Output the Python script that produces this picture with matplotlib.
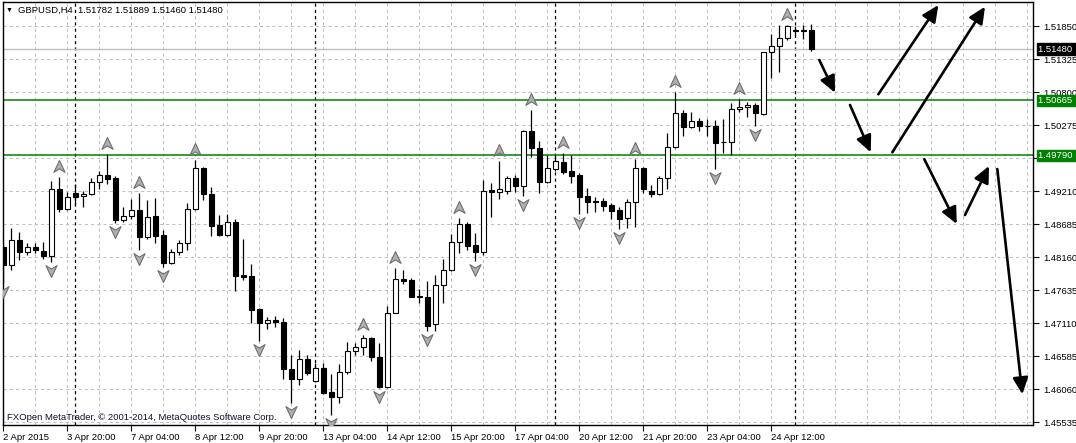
import numpy as np
import matplotlib
matplotlib.use("Agg")
import matplotlib.pyplot as plt
from matplotlib.path import Path
from matplotlib import transforms

plt.rcParams["font.family"] = ["Liberation Sans", "DejaVu Sans"]

# GBPUSD H4 candles, 2 Apr 2015 12:00 .. 27 Apr 2015 08:00
opens = [1.48339, 1.48048, 1.48446, 1.48259, 1.48334, 1.48271, 1.48196, 1.49257, 1.48939, 1.49189,
         1.49141, 1.49173, 1.49364, 1.49480, 1.49427, 1.48759, 1.48832, 1.48923, 1.48489, 1.48827,
         1.48520, 1.48075, 1.48250, 1.48393, 1.48934, 1.49586, 1.49177, 1.48679, 1.48530, 1.48727,
         1.47889, 1.47873, 1.47343, 1.47120, 1.47173, 1.47141, 1.46388, 1.46229, 1.46552, 1.46207,
         1.46404, 1.46022, 1.45943, 1.46341, 1.46680, 1.46748, 1.46882, 1.46579, 1.46112, 1.47289,
         1.47820, 1.47809, 1.47550, 1.47534, 1.47104, 1.47725, 1.47964, 1.48406, 1.48697, 1.48361,
         1.48250, 1.49236, 1.49205, 1.49230, 1.49427, 1.49310, 1.50180, 1.49905, 1.49373, 1.49570,
         1.49682, 1.49543, 1.49480, 1.49146, 1.49066, 1.49066, 1.49002, 1.48923, 1.48791, 1.49045,
         1.49586, 1.49230, 1.49173, 1.49427, 1.49921, 1.50461, 1.50248, 1.50344, 1.50264, 1.50255,
         1.50010, 1.50010, 1.50525, 1.50557, 1.50589, 1.50450, 1.51432, 1.51532, 1.51655, 1.51776,
         1.51776, 1.51782]
highs = [1.48414, 1.48641, 1.48578, 1.48403, 1.48393, 1.48414, 1.49389, 1.49443, 1.49214, 1.49337,
         1.49225, 1.49427, 1.49548, 1.49814, 1.49464, 1.48966, 1.49098, 1.49198, 1.49082, 1.49109,
         1.48605, 1.48298, 1.48446, 1.49029, 1.49718, 1.49612, 1.49294, 1.48843, 1.48859, 1.48780,
         1.48462, 1.48064, 1.47359, 1.47216, 1.47241, 1.47200, 1.46616, 1.46695, 1.46616, 1.46494,
         1.46484, 1.46314, 1.46473, 1.46828, 1.46802, 1.46934, 1.46907, 1.46812, 1.47396, 1.48005,
         1.47968, 1.47836, 1.47661, 1.47793, 1.47889, 1.48139, 1.48538, 1.48791, 1.48735, 1.48552,
         1.49400, 1.49348, 1.49702, 1.49469, 1.49480, 1.50196, 1.50514, 1.50021, 1.49798, 1.49798,
         1.49835, 1.49798, 1.49512, 1.49268, 1.49135, 1.49109, 1.49034, 1.48971, 1.49093, 1.49734,
         1.49607, 1.49321, 1.49464, 1.50143, 1.50805, 1.50514, 1.50477, 1.50382, 1.50371, 1.50355,
         1.50366, 1.50621, 1.50689, 1.50636, 1.50621, 1.51437, 1.51718, 1.51866, 1.51866, 1.51850,
         1.51866, 1.51889]
lows = [1.47761, 1.47968, 1.48127, 1.48207, 1.48234, 1.48139, 1.48100, 1.48886, 1.48923, 1.49002,
        1.48975, 1.49162, 1.49257, 1.49332, 1.48711, 1.48737, 1.48780, 1.48286, 1.48462, 1.48393,
        1.48021, 1.48059, 1.48207, 1.48286, 1.48923, 1.49082, 1.48514, 1.48509, 1.48514, 1.47639,
        1.47809, 1.47120, 1.46843, 1.47034, 1.47057, 1.46239, 1.45857, 1.46139, 1.46298, 1.46182,
        1.45995, 1.45669, 1.45847, 1.46309, 1.46616, 1.46616, 1.46525, 1.46086, 1.46096, 1.47289,
        1.47746, 1.47534, 1.47448, 1.46998, 1.47003, 1.47448, 1.47952, 1.48234, 1.48286, 1.48116,
        1.48207, 1.48816, 1.49098, 1.49177, 1.49214, 1.49150, 1.49771, 1.49198, 1.49352, 1.49543,
        1.49491, 1.49348, 1.48859, 1.48880, 1.48896, 1.48912, 1.48780, 1.48616, 1.48641, 1.48657,
        1.49198, 1.49125, 1.49162, 1.49252, 1.49910, 1.50105, 1.50223, 1.50180, 1.50105, 1.49575,
        1.49825, 1.49798, 1.50487, 1.50407, 1.50264, 1.50440, 1.51028, 1.51114, 1.51628, 1.51707,
        1.51639, 1.51460]
closes = [1.48048, 1.48446, 1.48259, 1.48339, 1.48282, 1.48196, 1.49257, 1.48939, 1.49125, 1.49135,
          1.49177, 1.49364, 1.49480, 1.49416, 1.48769, 1.48832, 1.48923, 1.48498, 1.48816, 1.48514,
          1.48075, 1.48250, 1.48393, 1.48934, 1.49586, 1.49173, 1.48673, 1.48525, 1.48727, 1.47878,
          1.47862, 1.47332, 1.47120, 1.47173, 1.47136, 1.46388, 1.46229, 1.46552, 1.46325, 1.46404,
          1.46016, 1.45943, 1.46341, 1.46680, 1.46748, 1.46882, 1.46579, 1.46112, 1.47289, 1.47820,
          1.47793, 1.47544, 1.47534, 1.47082, 1.47722, 1.47964, 1.48406, 1.48697, 1.48355, 1.48250,
          1.49230, 1.49205, 1.49252, 1.49427, 1.49310, 1.50180, 1.49905, 1.49373, 1.49586, 1.49702,
          1.49532, 1.49469, 1.49135, 1.49055, 1.49045, 1.48991, 1.48912, 1.48780, 1.49045, 1.49586,
          1.49252, 1.49173, 1.49427, 1.49921, 1.50461, 1.50248, 1.50344, 1.50264, 1.50259, 1.49994,
          1.50005, 1.50525, 1.50557, 1.50589, 1.50461, 1.51432, 1.51532, 1.51655, 1.51850, 1.51779,
          1.51782, 1.51480]

# fractal arrows (bar numbers)
fractal_up = [7, 13, 17, 24, 45, 49, 57, 62, 66, 70, 79, 84, 92, 98]
fractal_down = [0, 6, 14, 17, 20, 32, 36, 41, 47, 53, 59, 65, 72, 77, 89, 94]

# levels
green_levels = [1.50665, 1.49790]
bid = 1.51480

# hand drawn arrows: (bar, price) -> (bar, price)
arrow_start = [(102.0, 1.51309), (105.84, 1.50593), (109.38, 1.50764), (111.13, 1.49841),
               (115.13, 1.49730), (120.21, 1.48843), (124.25, 1.49575)]
arrow_end = [(103.96, 1.50789), (108.43, 1.49841), (116.88, 1.52184), (122.71, 1.52157),
             (119.18, 1.48700), (123.21, 1.49623), (127.38, 1.45991)]

x_tick_bars = [0, 8, 16, 24, 32, 40, 48, 56, 64, 72, 80, 88, 96]
x_tick_labels = ["2 Apr 2015", "3 Apr 20:00", "7 Apr 04:00", "8 Apr 12:00", "9 Apr 20:00",
                 "13 Apr 04:00", "14 Apr 12:00", "15 Apr 20:00", "17 Apr 04:00",
                 "20 Apr 12:00", "21 Apr 20:00", "23 Apr 04:00", "24 Apr 12:00"]
week_starts = [9, 39, 69, 99]
# 1.49750 sits under the 1.49790 level box, so it is left blank
y_tick_labels = ["1.51850", "1.51325", "1.50800", "1.50275", "", "1.49210", "1.48685",
                 "1.48160", "1.47635", "1.47110", "1.46585", "1.46060", "1.45535"]
y_ticks = 1.51850 - 0.00525 * np.arange(len(y_tick_labels))

o = np.array(opens)
h = np.array(highs)
l = np.array(lows)
c = np.array(closes)
x = np.arange(len(o))

fig = plt.figure(figsize=(10.76, 4.43), dpi=100)
ax = fig.add_axes([2.7 / 1076, 1 - 425 / 443, 1030.6 / 1076, 423.3 / 443])
ax.set_xlim(-0.075, 128.75)
ax.set_ylim(1.455023, 1.522366)

# grid
grid_col = "#c0c0c0"
for gx in range(0, 129, 4):
    ax.axvline(gx, color=grid_col, lw=0.75, ls=(0, (3, 3)), zorder=0)
for gy in y_ticks:
    ax.axhline(gy, color=grid_col, lw=0.75, ls=(0, (3, 3)), zorder=0)
for wx in week_starts:
    ax.axvline(wx, color="black", lw=0.9, ls=(0, (2.5, 2.5)), zorder=1)

ax.axhline(bid, color="#c0c0c0", lw=1.0, zorder=1)
for lv in green_levels:
    ax.axhline(lv, color="#008000", lw=1.1, zorder=1)

# candles
ax.vlines(x, l, h, color="black", lw=0.9, zorder=2)
bull = c >= o
ax.bar(x, np.abs(c - o), bottom=np.minimum(o, c), width=0.6,
       color=np.where(bull, "white", "black"), edgecolor="black", linewidth=0.8, zorder=3)

# fractals
up_path = Path([(0, 1), (0.8, -0.7), (0, -0.2), (-0.8, -0.7), (0, 1)],
               [Path.MOVETO, Path.LINETO, Path.LINETO, Path.LINETO, Path.CLOSEPOLY])
down_path = Path([(0, -1), (0.8, 0.7), (0, 0.2), (-0.8, 0.7), (0, -1)],
                 [Path.MOVETO, Path.LINETO, Path.LINETO, Path.LINETO, Path.CLOSEPOLY])
up_tr = transforms.offset_copy(ax.transData, fig=fig, y=10, units="dots")
dn_tr = transforms.offset_copy(ax.transData, fig=fig, y=-8, units="dots")
ax.plot(fractal_up, h[fractal_up], ls="none", marker=up_path, ms=10,
        mfc="#b0b0b0", mec="#6e6e6e", mew=0.8, transform=up_tr, zorder=4)
ax.plot(fractal_down, l[fractal_down], ls="none", marker=down_path, ms=10,
        mfc="#b0b0b0", mec="#6e6e6e", mew=0.8, transform=dn_tr, zorder=4)

# drawn arrows
for s, e in zip(arrow_start, arrow_end):
    ax.annotate("", xy=e, xytext=s,
                arrowprops=dict(arrowstyle="-|>,head_length=0.9,head_width=0.42",
                                color="black", lw=1.9, shrinkA=0, shrinkB=0,
                                mutation_scale=11), zorder=5)

# axes
ax.set_xticks(x_tick_bars)
ax.set_xticklabels(x_tick_labels)
for lab in ax.get_xticklabels():
    lab.set_horizontalalignment("left")
ax.yaxis.tick_right()
ax.set_yticks(y_ticks)
ax.set_yticklabels(y_tick_labels)
ax.tick_params(axis="both", direction="out", length=4, width=0.8, labelsize=6.8, colors="black")
ax.tick_params(axis="x", pad=1.5)
ax.tick_params(axis="y", pad=3)
for sp in ax.spines.values():
    sp.set_color("black")
    sp.set_linewidth(1)

# price labels on scale
lab_tr = transforms.blended_transform_factory(fig.transFigure, ax.transData)
fig.text(1038 / 1076, bid, "%.5f" % bid + " ", transform=lab_tr, va="center", ha="left",
         fontsize=6.8, color="white", zorder=10,
         bbox=dict(boxstyle="square,pad=0.15", fc="black", ec="black"))
for lv in green_levels:
    fig.text(1038 / 1076, lv, "%.5f" % lv + " ", transform=lab_tr, va="center", ha="left",
             fontsize=6.8, color="white", zorder=10,
             bbox=dict(boxstyle="square,pad=0.15", fc="#008000", ec="#008000"))

# header / footer
fig.text(6 / 1076, 1 - 10 / 443, "\u25bc", fontsize=5, va="center", ha="left")
fig.text(18 / 1076, 1 - 10 / 443, "GBPUSD,H4  %.5f %.5f %.5f %.5f" % (o[-1], h[-1], l[-1], c[-1]),
         fontsize=6.8, va="center", ha="left")
fig.text(7 / 1076, 1 - 417.5 / 443, "FXOpen MetaTrader, \u00a9 2001-2014, MetaQuotes Software Corp.",
         fontsize=6.8, va="center", ha="left", color="#10102a")

fig.savefig("out.png", dpi=100, facecolor="white")
